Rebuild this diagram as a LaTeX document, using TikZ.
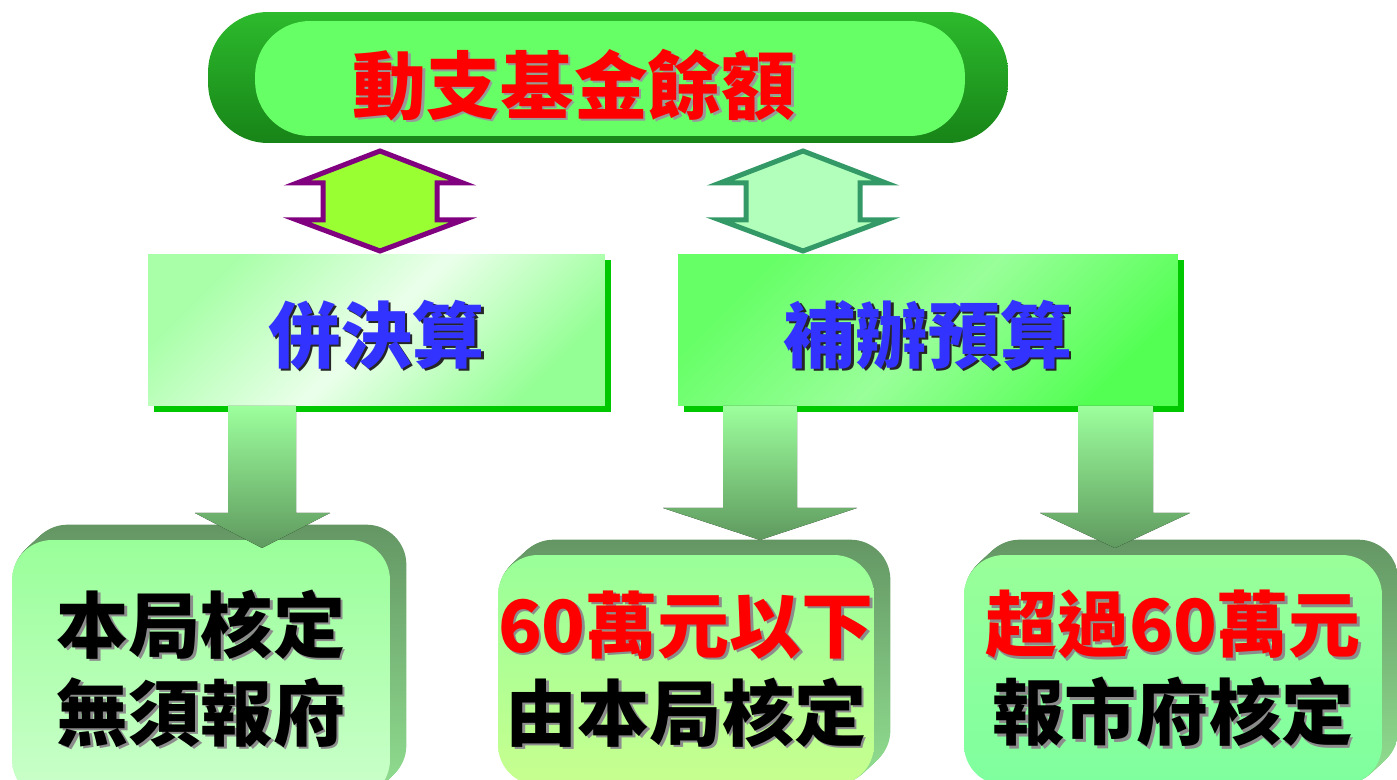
\documentclass[tikz,border=0pt]{standalone}
\usepackage{fontspec}
\newfontfamily\cjk{Noto Sans CJK TC}
\usetikzlibrary{shadows,backgrounds,calc}

\definecolor{pillin}{HTML}{66FF66}
\definecolor{pilltop}{HTML}{2DBA2D}
\definecolor{pillbot}{HTML}{178417}
\definecolor{plum}{HTML}{800080}
\definecolor{lime}{HTML}{99FF33}
\definecolor{teal}{HTML}{339966}
\definecolor{mint}{HTML}{B1FFBA}
\definecolor{boxshadow}{HTML}{00C800}
\definecolor{textblue}{HTML}{3333FF}
\definecolor{arrowtop}{HTML}{9CFF9C}
\definecolor{arrowbot}{HTML}{5F995F}
\definecolor{sidetop}{HTML}{649664}
\definecolor{sidebot}{HTML}{8FDC8F}
\definecolor{facetop}{HTML}{99FF99}

% text with a drop shadow behind it
\newcommand\shd[3]{\rlap{\kern0.05cm\raisebox{-0.05cm}{\color{#2}#3}}{\color{#1}#3}}

\begin{document}
\begin{tikzpicture}[x=0.02cm,y=-0.02cm]
   \tikzstyle{pill} = [rectangle, inner sep=0pt]
   \tikzstyle{flat} = [rectangle, inner sep=0pt, minimum height=3.04cm, font=\cjk\bfseries\fontsize{41pt}{50pt}\selectfont,
                       drop shadow={shadow xshift=0.12cm, shadow yshift=-0.12cm, opacity=1, fill=boxshadow}]
   \tikzstyle{face} = [rectangle, rounded corners=0.8cm, inner sep=0pt, minimum height=4.6cm, align=center,
                       font=\cjk\bfseries\fontsize{41pt}{50pt}\selectfont]
   \tikzstyle{dbl} = [line width=0.1cm]
   \tikzstyle{fat} = [top color=arrowtop, bottom color=arrowbot]

   \useasboundingbox (0,0) rectangle (1397,780);

      \draw
        (608,77.5) node[pill, rounded corners=1.2cm, minimum width=16cm, minimum height=2.62cm, top color=pilltop, bottom color=pillbot] (fund){}
        (610,78.5) node[pill, rounded corners=1.1cm, minimum width=14.2cm, minimum height=2.3cm, fill=pillin] (fundin){}
        (574,86) node[font=\cjk\bfseries\fontsize{42pt}{50pt}\selectfont] (title){\shd{red}{black!40}{動支基金餘額}}
        (376.5,330) node[flat, minimum width=9.14cm, top color=green!34!white, bottom color=green!42!white, middle color=green!8!white, shading angle=45] (final){}
        (928,330) node[flat, minimum width=10cm, top color=green!60!white, bottom color=green!67!white, middle color=green!40!white, shading angle=45] (supp){}
        (376.5,336) node[font=\cjk\bfseries\fontsize{41pt}{50pt}\selectfont] (finaltxt){\shd{textblue}{black!85}{併決算}}
        (928,336) node[font=\cjk\bfseries\fontsize{41pt}{50pt}\selectfont] (supptxt){\shd{textblue}{black!85}{補辦預算}}
        (201,670) node[face, minimum width=7.56cm, minimum height=5.2cm, top color=facetop, bottom color=green!20!white] (local){\shd{black}{black!45}{本局核定}\\\shd{black}{black!45}{無須報府}}
        (686,670) node[face, minimum width=7.52cm, top color=facetop, bottom color=lime!55!white] (under){\shd{red}{black!45}{60萬元以下}\\\shd{black}{black!45}{由本局核定}}
        (1173,670) node[face, minimum width=8.36cm, top color=facetop, bottom color=cyan!25!green!50!white] (over){\shd{red}{black!45}{超過60萬元}\\\shd{black}{black!45}{報市府核定}};

  % 3d sides of the lower boxes
  \begin{scope}[on background layer]
    \foreach \n in {local,under,over}
      \foreach \k in {1,...,15}
        \path[rounded corners=0.8cm, top color=sidetop, bottom color=sidebot]
          ($(\n.south west)+(1.07*\k,-\k)$) rectangle ($(\n.north east)+(1.07*\k,-\k)$);
  \end{scope}

  % double arrows under the title
  \draw[dbl, draw=plum, fill=lime] (380,151) -- (463,183) -- (437,183) -- (437,220) -- (463,220) -- (380,251)
        -- (297,220) -- (323,220) -- (323,183) -- (297,183) -- cycle;
  \draw[dbl, draw=teal, fill=mint] (803,151) -- (886,183) -- (860,183) -- (860,220) -- (886,220) -- (803,251)
        -- (720,220) -- (746,220) -- (746,183) -- (720,183) -- cycle;

  % arrows down to the lower boxes
  \fill[fat] (228,406) -- (296,406) -- (296,513) -- (330,513) -- (262,548) -- (195,513) -- (228,513) -- cycle;
  \fill[fat] (723,406) -- (797,406) -- (797,508) -- (857,508) -- (760,540) -- (663,508) -- (723,508) -- cycle;
  \fill[fat] (1078,406) -- (1153,406) -- (1153,513) -- (1190,513) -- (1115,548) -- (1040,513) -- (1078,513) -- cycle;
\end{tikzpicture}
\end{document}
